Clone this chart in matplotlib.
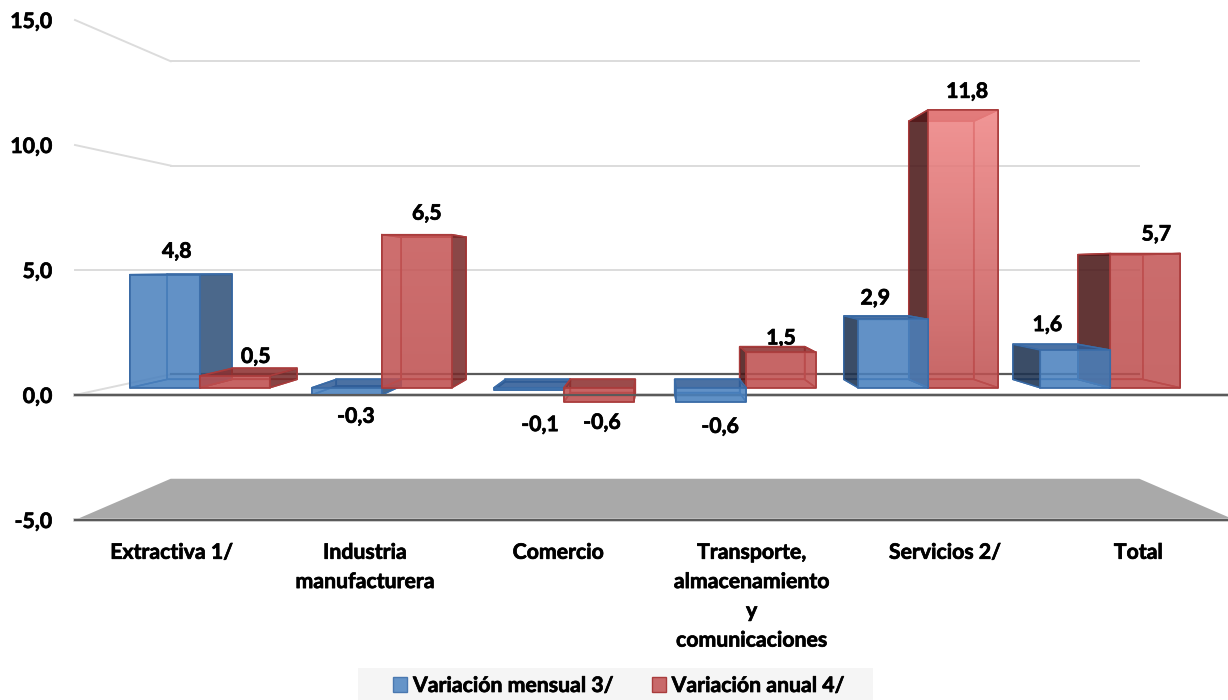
import numpy as np
import matplotlib
matplotlib.use("Agg")
import matplotlib.pyplot as plt
import matplotlib.patheffects as pe
from matplotlib.colors import to_rgb
from matplotlib.patches import Patch, Polygon, Rectangle

plt.rcParams['font.family'] = ['Lato', 'DejaVu Sans']
plt.rcParams['font.weight'] = 'bold'

categories = ['Extractiva 1/', 'Industria\nmanufacturera', 'Comercio',
              'Transporte,\nalmacenamiento\ny\ncomunicaciones', 'Servicios 2/', 'Total']
mensual = [4.8, -0.3, -0.1, -0.6, 2.9, 1.6]
anual = [0.5, 6.5, -0.6, 1.5, 11.8, 5.7]
value_ticks = [-5, 0, 5, 10, 15]
series_names = ['Variación mensual 3/', 'Variación anual 4/']

# label nudges, in pixels from the front top edge of each bar
nudge_mensual = [(12, -23), (9, 22), (11, 35), (9, 25), (-18, -21), (-28, -25)]
nudge_anual = [(21, -19), (10, -21), (3, 21), (0, -14), (4, -18), (11, -19)]

# perspective: s scales everything towards the vanishing point
XC, VC = 3.0, 5.0
S_WALL, S_FRONT, S_BACK = 0.835, 0.942, 0.875
BAR_W = 0.384


def P(x, v, s):
    return (XC + (x - XC) * s, VC + (v - VC) * s)


W, H = 1228, 700
fig = plt.figure(figsize=(W / 100, H / 100), dpi=100, facecolor='white')
ax = fig.add_axes([75 / W, (H - 527.5) / H, 1160 / W, 527.5 / H])
ax.set_xlim(0, 6)
ax.set_ylim(-5.3, 15.8)
ax.patch.set_alpha(0)
for sp in ax.spines.values():
    sp.set_visible(False)

FS = 15.3
THICK = [pe.withStroke(linewidth=0.5, foreground='black')]
ax.set_yticks(value_ticks)
ax.set_yticklabels([f'{t:.1f}'.replace('.', ',') for t in value_ticks], fontsize=FS, fontweight='bold')
ax.tick_params(axis='y', length=0, pad=16.5)
ax.set_xticks(np.arange(len(categories)) + 0.5)
ax.set_xticklabels(categories, fontsize=FS, fontweight='bold', linespacing=1.58)
ax.tick_params(axis='x', length=0, pad=11)
for lab in ax.get_xticklabels() + ax.get_yticklabels():
    lab.set_path_effects(THICK)

GRID = '#dcdcdc'
DARK = '#5a5a5a'
# floor
ax.add_patch(Polygon([P(0, -5, 1), P(6, -5, 1), P(6, -5, S_WALL), P(0, -5, S_WALL)],
                     closed=True, fc='#a9a9a9', ec='none', zorder=1))
# walls
for t in value_ticks:
    if t == -5:
        continue
    pa, pb, pc = P(0, t, 1), P(0, t, S_WALL), P(6, t, S_WALL)
    ax.plot([pa[0], pb[0]], [pa[1], pb[1]], color=GRID, lw=1.4, zorder=2, clip_on=False)
    ax.plot([pb[0], pc[0]], [pb[1], pc[1]], color=DARK if t == 0 else GRID,
            lw=1.6 if t == 0 else 1.4, zorder=2, clip_on=False)

STYLE = {
    'b': dict(front='#4a81be', right='#2f5178', left='#1d314e', top='#2f5b95', edge='#3a6ba6'),
    'r': dict(front='#be4f4f', right='#772a2a', left='#481617', top='#8c2f2f', edge='#a93c3c'),
}
z = [10]


def face(pts, fc, alpha, ec, lw=1.1):
    z[0] += 1
    rgba = to_rgb(fc) + (alpha,)
    p = Polygon(pts, closed=True, fc=rgba, ec=ec, lw=lw, zorder=z[0], clip_on=False)
    ax.add_patch(p)
    return p


def box(x0, value, style):
    x1 = x0 + BAR_W
    lo, hi = min(0, value), max(0, value)
    st = STYLE[style]
    quad = lambda a, b, c, d: [a, b, c, d]
    f = lambda x, v: P(x, v, S_FRONT)
    b = lambda x, v: P(x, v, S_BACK)
    e = st['edge']
    face(quad(b(x0, lo), b(x1, lo), b(x1, hi), b(x0, hi)), st['front'], 0.12, e)
    face(quad(f(x0, lo), f(x1, lo), b(x1, lo), b(x0, lo)), st['front'], 0.2, e)
    midx = (x0 + x1) / 2
    if midx < XC:
        face(quad(f(x0, lo), b(x0, lo), b(x0, hi), f(x0, hi)), st['front'], 0.08, e)
        face(quad(f(x0, hi), f(x1, hi), b(x1, hi), b(x0, hi)), st['top'], 0.85, e)
        face(quad(f(x1, lo), b(x1, lo), b(x1, hi), f(x1, hi)), st['right'], 0.85, e)
    else:
        face(quad(f(x1, lo), b(x1, lo), b(x1, hi), f(x1, hi)), st['front'], 0.08, e)
        face(quad(f(x0, hi), f(x1, hi), b(x1, hi), b(x0, hi)), st['top'], 0.85, e)
        face(quad(f(x0, lo), b(x0, lo), b(x0, hi), f(x0, hi)), st['left'], 0.85, e)
    pts = quad(f(x0, lo), f(x1, lo), f(x1, hi), f(x0, hi))
    if style == 'r' and value > 0:
        # lighter towards the top of the tall red columns
        t = (value / max(anual)) ** 3
        base = np.array(to_rgb(st['front']))
        light = np.array(to_rgb('#f08585'))
        top = base + (light - base) * t
        grad = np.linspace(top, base, 128)[:, None, :]
        rgba = np.dstack([grad, np.full((128, 1), 0.85)])
        z[0] += 1
        (xa, va), (xb, vb) = f(x0, lo), f(x1, hi)
        im = ax.imshow(rgba, extent=(xa, xb, va, vb), aspect='auto', origin='upper',
                       zorder=z[0], interpolation='bilinear')
        poly = face(pts, 'white', 0.0, e)
        im.set_clip_path(poly)
    else:
        face(pts, st['front'], 0.85, e)


for k in [0, 1, 2, 5, 4, 3]:
    c = k + 0.5
    if k < 3:
        box(c - BAR_W, mensual[k], 'b')
        box(c, anual[k], 'r')
    else:
        box(c, anual[k], 'r')
        box(c - BAR_W, mensual[k], 'b')

ax.set_xlim(0, 6)
ax.set_ylim(-5.3, 15.8)

# front axis lines: soft halo behind the bars, dark core in front
for t in [0, -5]:
    ax.plot([0, 6], [t, t], color='#c8c8c8', lw=2.6, zorder=5, clip_on=False)
    ax.plot([0, 6], [t, t], color=DARK, lw=1.5, zorder=61, clip_on=False)

# value labels
for vals, nudges, off in [(mensual, nudge_mensual, -BAR_W / 2), (anual, nudge_anual, BAR_W / 2)]:
    for k, (v, n) in enumerate(zip(vals, nudges)):
        xy = P(k + 0.5 + off, v, S_FRONT)
        ax.annotate(f'{v:.1f}'.replace('.', ','), xy=xy,
                    xytext=(n[0] * 0.72, -n[1] * 0.72), textcoords='offset points',
                    ha='center', va='center', fontsize=FS, fontweight='bold',
                    color='black', zorder=70, annotation_clip=False,
                    path_effects=THICK)

fig.add_artist(Rectangle((358 / W, 0), 515 / W, 32 / H, transform=fig.transFigure,
                         fc='#f5f5f5', ec='none', zorder=0))
handles = [Patch(fc='#6594c8', ec='#4a78b0', lw=1), Patch(fc='#c8696a', ec='#a93c3c', lw=1)]
leg = fig.legend(handles, series_names, loc='center left', bbox_to_anchor=(393 / W, 1 - 686 / H),
                 ncol=2, frameon=False, fontsize=15.3, handlelength=0.66, handleheight=0.66,
                 handletextpad=0.28, columnspacing=1.79, borderpad=0, borderaxespad=0)
for txt in leg.get_texts():
    txt.set_path_effects(THICK)

fig.savefig('out.png', dpi=100)
